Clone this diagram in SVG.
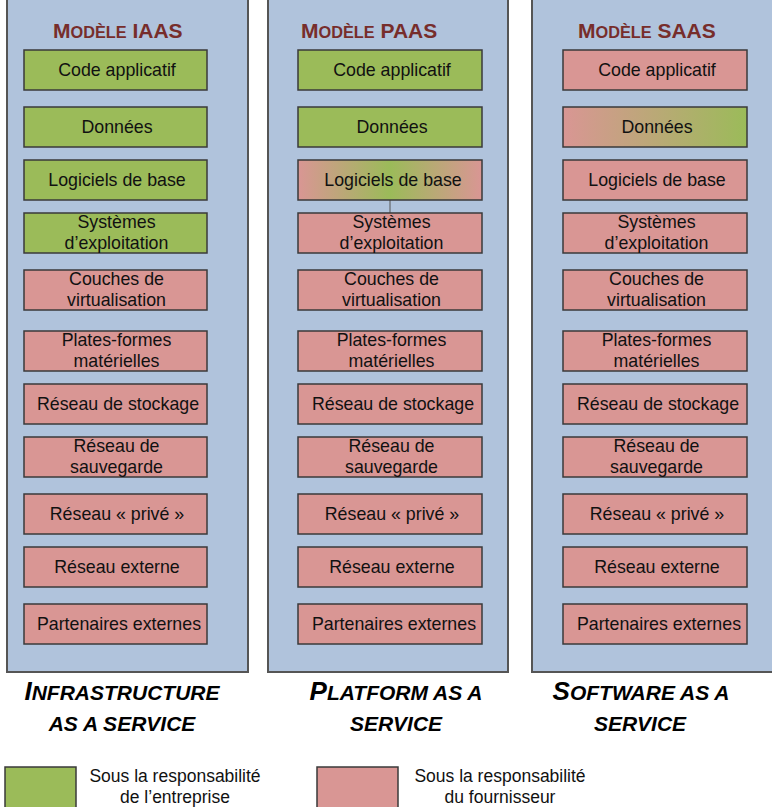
<svg xmlns="http://www.w3.org/2000/svg" width="772" height="807" viewBox="0 0 772 807">
<style>
.panel{fill:#b0c3dc;stroke:#555;stroke-width:2}
.g{fill:#9bbb59;stroke:#3a3a3a;stroke-width:1.5}
.r{fill:#d99694;stroke:#3a3a3a;stroke-width:1.5}
.t{font-family:"Liberation Sans",Arial,sans-serif;font-size:17.8px;fill:#111;text-anchor:middle}
.title{font-family:"Liberation Sans",Arial,sans-serif;font-weight:bold;fill:#772d2b;font-size:21px}
.title .s{font-size:16.3px}
.lab{font-family:"Liberation Sans",Arial,sans-serif;font-weight:bold;font-style:italic;fill:#000;font-size:21px;text-anchor:middle}
.lab .b{font-size:26px}
.leg{font-family:"Liberation Sans",Arial,sans-serif;font-size:17.5px;fill:#111;text-anchor:middle}
.conn{stroke:#555;stroke-width:1;fill:none}
</style>
<defs>
<linearGradient id="rgr" x1="0" y1="0" x2="1" y2="0">
<stop offset="0" stop-color="#d99694"/>
<stop offset="0.5" stop-color="#9bbb59"/>
<stop offset="1" stop-color="#d99694"/>
</linearGradient>
<linearGradient id="rg" x1="0" y1="0" x2="1" y2="0">
<stop offset="0" stop-color="#d99694"/>
<stop offset="1" stop-color="#9bbb59"/>
</linearGradient>
</defs>
<rect x="0" y="0" width="772" height="807" fill="#fff"/>

<g id="panel-iaas">
<rect class="panel" x="7" y="-3" width="241" height="675"/>
<text class="title" x="53" y="38">M<tspan class="s">ODÈLE</tspan> IAAS</text>
</g>
<g id="panel-paas">
<rect class="panel" x="268" y="-3" width="240" height="675"/>
<text class="title" x="301" y="38">M<tspan class="s">ODÈLE</tspan> PAAS</text>
</g>
<g id="panel-saas">
<rect class="panel" x="532" y="-3" width="245" height="675"/>
<text class="title" x="578" y="38">M<tspan class="s">ODÈLE</tspan> SAAS</text>
</g>

<g id="connectors">
<line class="conn" x1="390" y1="200" x2="390" y2="213"/>
</g>

<!-- IAAS column -->
<g id="iaas-code"><rect class="g" x="24" y="50" width="183" height="40"/><text class="t" x="117" y="76">Code applicatif</text></g>
<g id="iaas-donnees"><rect class="g" x="24" y="107" width="183" height="40"/><text class="t" x="117" y="133">Données</text></g>
<g id="iaas-logiciels"><rect class="g" x="24" y="160" width="183" height="40"/><text class="t" x="117" y="186">Logiciels de base</text></g>
<g id="iaas-os"><rect class="g" x="24" y="213" width="183" height="40"/><text class="t" x="116.5" y="228">Systèmes</text><text class="t" x="116.5" y="249">d’exploitation</text></g>
<g id="iaas-virt"><rect class="r" x="24" y="270" width="183" height="40"/><text class="t" x="116.5" y="285">Couches de</text><text class="t" x="116.5" y="306">virtualisation</text></g>
<g id="iaas-hw"><rect class="r" x="24" y="331" width="183" height="40"/><text class="t" x="116.5" y="346">Plates-formes</text><text class="t" x="116.5" y="367">matérielles</text></g>
<g id="iaas-stock"><rect class="r" x="24" y="384" width="183" height="40"/><text class="t" x="118" y="410">Réseau de stockage</text></g>
<g id="iaas-sauv"><rect class="r" x="24" y="437" width="183" height="40"/><text class="t" x="116.5" y="452">Réseau de</text><text class="t" x="116.5" y="473">sauvegarde</text></g>
<g id="iaas-prive"><rect class="r" x="24" y="494" width="183" height="40"/><text class="t" x="117" y="520">Réseau « privé »</text></g>
<g id="iaas-ext"><rect class="r" x="24" y="547" width="183" height="40"/><text class="t" x="117" y="573">Réseau externe</text></g>
<g id="iaas-part"><rect class="r" x="24" y="604" width="183" height="40"/><text class="t" x="119" y="630">Partenaires externes</text></g>

<!-- PAAS column -->
<g id="paas-code"><rect class="g" x="298" y="50" width="184" height="40"/><text class="t" x="392" y="76">Code applicatif</text></g>
<g id="paas-donnees"><rect class="g" x="298" y="107" width="184" height="40"/><text class="t" x="392" y="133">Données</text></g>
<g id="paas-logiciels"><rect class="r" style="fill:url(#rgr)" x="298" y="160" width="184" height="40"/><text class="t" x="393" y="186">Logiciels de base</text></g>
<g id="paas-os"><rect class="r" x="298" y="213" width="184" height="40"/><text class="t" x="391.5" y="228">Systèmes</text><text class="t" x="391.5" y="249">d’exploitation</text></g>
<g id="paas-virt"><rect class="r" x="298" y="270" width="184" height="40"/><text class="t" x="391.5" y="285">Couches de</text><text class="t" x="391.5" y="306">virtualisation</text></g>
<g id="paas-hw"><rect class="r" x="298" y="331" width="184" height="40"/><text class="t" x="391.5" y="346">Plates-formes</text><text class="t" x="391.5" y="367">matérielles</text></g>
<g id="paas-stock"><rect class="r" x="298" y="384" width="184" height="40"/><text class="t" x="393" y="410">Réseau de stockage</text></g>
<g id="paas-sauv"><rect class="r" x="298" y="437" width="184" height="40"/><text class="t" x="391.5" y="452">Réseau de</text><text class="t" x="391.5" y="473">sauvegarde</text></g>
<g id="paas-prive"><rect class="r" x="298" y="494" width="184" height="40"/><text class="t" x="392" y="520">Réseau « privé »</text></g>
<g id="paas-ext"><rect class="r" x="298" y="547" width="184" height="40"/><text class="t" x="392" y="573">Réseau externe</text></g>
<g id="paas-part"><rect class="r" x="298" y="604" width="184" height="40"/><text class="t" x="394" y="630">Partenaires externes</text></g>

<!-- SAAS column -->
<g id="saas-code"><rect class="r" x="563" y="50" width="184" height="40"/><text class="t" x="657" y="76">Code applicatif</text></g>
<g id="saas-donnees"><rect class="r" style="fill:url(#rg)" x="563" y="107" width="184" height="40"/><text class="t" x="657" y="133">Données</text></g>
<g id="saas-logiciels"><rect class="r" x="563" y="160" width="184" height="40"/><text class="t" x="657" y="186">Logiciels de base</text></g>
<g id="saas-os"><rect class="r" x="563" y="213" width="184" height="40"/><text class="t" x="656.5" y="228">Systèmes</text><text class="t" x="656.5" y="249">d’exploitation</text></g>
<g id="saas-virt"><rect class="r" x="563" y="270" width="184" height="40"/><text class="t" x="656.5" y="285">Couches de</text><text class="t" x="656.5" y="306">virtualisation</text></g>
<g id="saas-hw"><rect class="r" x="563" y="331" width="184" height="40"/><text class="t" x="656.5" y="346">Plates-formes</text><text class="t" x="656.5" y="367">matérielles</text></g>
<g id="saas-stock"><rect class="r" x="563" y="384" width="184" height="40"/><text class="t" x="658" y="410">Réseau de stockage</text></g>
<g id="saas-sauv"><rect class="r" x="563" y="437" width="184" height="40"/><text class="t" x="656.5" y="452">Réseau de</text><text class="t" x="656.5" y="473">sauvegarde</text></g>
<g id="saas-prive"><rect class="r" x="563" y="494" width="184" height="40"/><text class="t" x="657" y="520">Réseau « privé »</text></g>
<g id="saas-ext"><rect class="r" x="563" y="547" width="184" height="40"/><text class="t" x="657" y="573">Réseau externe</text></g>
<g id="saas-part"><rect class="r" x="563" y="604" width="184" height="40"/><text class="t" x="659" y="630">Partenaires externes</text></g>

<!-- Bottom labels -->
<g id="label-iaas">
<text class="lab" x="122" y="700"><tspan class="b">I</tspan>NFRASTRUCTURE</text>
<text class="lab" x="122" y="731">AS A SERVICE</text>
</g>
<g id="label-paas">
<text class="lab" x="396" y="700"><tspan class="b">P</tspan>LATFORM AS A</text>
<text class="lab" x="396" y="731">SERVICE</text>
</g>
<g id="label-saas">
<text class="lab" x="641" y="700"><tspan class="b">S</tspan>OFTWARE AS A</text>
<text class="lab" x="640" y="731">SERVICE</text>
</g>

<!-- Legend -->
<g id="legend-entreprise">
<rect class="g" x="5" y="767" width="71" height="45"/>
<text class="leg" x="175" y="782">Sous la responsabilité</text>
<text class="leg" x="175" y="803">de l’entreprise</text>
</g>
<g id="legend-fournisseur">
<rect class="r" x="317" y="767" width="81" height="45"/>
<text class="leg" x="500" y="782">Sous la responsabilité</text>
<text class="leg" x="500" y="803">du fournisseur</text>
</g>
</svg>
